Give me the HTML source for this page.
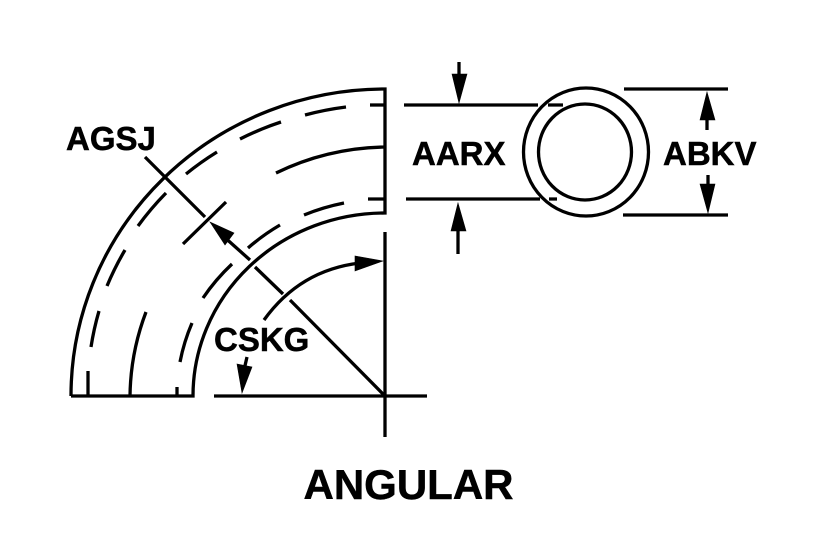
<!DOCTYPE html>
<html>
<head>
<meta charset="utf-8">
<style>
html,body{margin:0;padding:0;background:#fff;width:830px;height:556px;overflow:hidden}
svg{display:block}
text{font-family:"Liberation Sans",sans-serif;font-weight:bold;fill:#000;stroke:#000;stroke-width:.5}
</style>
</head>
<body>
<svg width="830" height="556" viewBox="0 0 830 556" xmlns="http://www.w3.org/2000/svg">
<g fill="none" stroke="#000" stroke-width="3.3">
  <!-- elbow outer & inner -->
  <path d="M71 396 A314 307 0 0 1 385 89 V213 A192 183 0 0 0 193 396 H71"/>
  <!-- mid line -->
  <path d="M385 147 A254 249 0 0 0 276 173"/>
  <path d="M146 312 A254 249 0 0 0 130 396"/>
  <!-- upper dashes -->
  <path d="M370 105 H385"/>
  <path d="M346 107 A297 291 0 0 0 305 115"/>
  <path d="M281 122 A297 291 0 0 0 240 139"/>
  <path d="M217 152 A297 291 0 0 0 186 174"/>
  <path d="M166 193 A297 291 0 0 0 138 226"/>
  <path d="M125 250 A297 291 0 0 0 107 286"/>
  <path d="M99 311 A297 291 0 0 0 91 347"/>
  <path d="M88 371 V396"/>
  <!-- lower dashes -->
  <path d="M368 199 H385"/>
  <path d="M344 203 A208 198 0 0 0 304 215"/>
  <path d="M280 225 A208 198 0 0 0 248 248"/>
  <path d="M226 202 L183 244"/>
  <path d="M232 264 A208 198 0 0 0 203 298"/>
  <path d="M192 323 A208 198 0 0 0 180 362"/>
  <path d="M177 387 V396"/>
  <!-- diagonal -->
  <path d="M145 157 L205 217"/>
  <path d="M222 235 L250 260"/>
  <path d="M255 267 L283 294"/>
  <path d="M290 300 L385 396"/>
  <!-- axes -->
  <path d="M385 232 V437"/>
  <path d="M214 396 H427"/>
  <!-- angle arc -->
  <path d="M264 320 Q300 270 360 263"/>
  <path d="M247 357 L244 370"/>
  <!-- circles -->
  <ellipse cx="586" cy="152" rx="62.5" ry="64"/>
  <ellipse cx="585" cy="152" rx="46.5" ry="48"/>
  <!-- extension lines -->
  <path d="M404 105 H538 M548 105 H563"/>
  <path d="M406 199 H540 M549 199 H557"/>
  <path d="M624 89 H728"/>
  <path d="M623 215 H728"/>
  <!-- dimension stems -->
  <path d="M459 62 V80"/>
  <path d="M458 226 V254"/>
  <path d="M707 115 V130"/>
  <path d="M708 175 V190"/>
</g>
<g fill="#000" stroke="#000" stroke-width=".6">
  <polygon points="210,222 234,233 225,245"/>
  <polygon points="383,261 355,256 355,271"/>
  <polygon points="242,393 237,364 252,367"/>
  <polygon points="459,103 452,74 467,74"/>
  <polygon points="458,203 451,231 466,231"/>
  <polygon points="707,92 700,120 715,120"/>
  <polygon points="708,213 700,184 715,184"/>
</g>
<text x="66" y="150" font-size="33">AGSJ</text>
<text x="412" y="165" font-size="33">AARX</text>
<text x="663" y="165" font-size="33">ABKV</text>
<text x="214" y="351" font-size="33">CSKG</text>
<text x="303.5" y="499" font-size="42">ANGULAR</text>
</svg>
</body>
</html>
